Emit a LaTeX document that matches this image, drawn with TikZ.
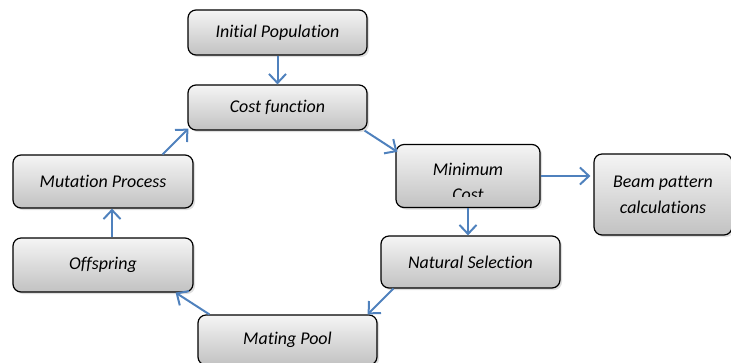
\documentclass[tikz,border=0pt]{standalone}
\usepackage{fontspec}
\setmainfont{Carlito}[Ligatures=NoCommon]
\usetikzlibrary{arrows.meta,shadows}
\definecolor{flowblue}{RGB}{79,129,189}
\tikzset{
  stage/.style={draw=black,line width=1.2pt,rounded corners=8bp,top color=black!4,bottom color=black!24,
    drop shadow={opacity=0.25,shadow xshift=2bp,shadow yshift=-2bp},
    font=\fontsize{18}{26}\selectfont\itshape,align=center,inner sep=0pt},
  flow/.style={draw=flowblue,line width=2bp,-{Straight Barb[length=9bp,width=17bp,line width=2bp]}}
}
\begin{document}
\begin{tikzpicture}[x=1bp,y=-1bp]
	    \useasboundingbox (0,0) rectangle (731,362);
	    \node[stage,minimum width=179bp,minimum height=45bp](init) at (277.5,32.5){Initial Population};
	    \node[stage,minimum width=179bp,minimum height=45bp](cost) at (277.5,107.5){Cost function};
	    \node[stage,minimum width=144bp,minimum height=63bp](mincost) at (468,176){};
	    \begin{scope}
	      \clip (398,146) rectangle (538,196);
	      \node[font=\fontsize{18}{25}\selectfont\itshape,align=center](mintext) at (468,182){Minimum\\Cost};
	    \end{scope}
	    \node[stage,minimum width=138bp,minimum height=81bp](beam) at (663,194.5){Beam pattern\\calculations};
	    \node[stage,minimum width=179bp,minimum height=52bp](natsel) at (470.5,262){Natural Selection};
	    \node[stage,minimum width=179bp,minimum height=50bp](mating) at (287.5,340){Mating Pool};
	    \node[stage,minimum width=180bp,minimum height=54bp](offspring) at (103,265){Offspring};
	    \node[stage,minimum width=180bp,minimum height=53bp](mutation) at (103,181.5){Mutation Process};

	    \draw[flow](init.south)--(cost.north);
	    \draw[flow]([xshift=-3bp]cost.south east)--([xshift=2bp,yshift=-8bp]mincost.north west);
	    \draw[flow](mincost.east)--([xshift=-3bp]beam.west |- mincost.east);
	    \draw[flow](mincost.south)--(mincost.south |- natsel.north);
	    \draw[flow]([xshift=13bp]natsel.south west)--([xshift=-10bp]mating.north east);
	    \draw[flow]([xshift=12bp]mating.north west)--([xshift=-18bp]offspring.south east);
	    \draw[flow]([xshift=9bp]offspring.north)--([xshift=9bp]mutation.south);
	    \draw[flow]([xshift=-31bp]mutation.north east)--([xshift=1bp,yshift=2bp]cost.south west);

	\end{tikzpicture}
\end{document}
